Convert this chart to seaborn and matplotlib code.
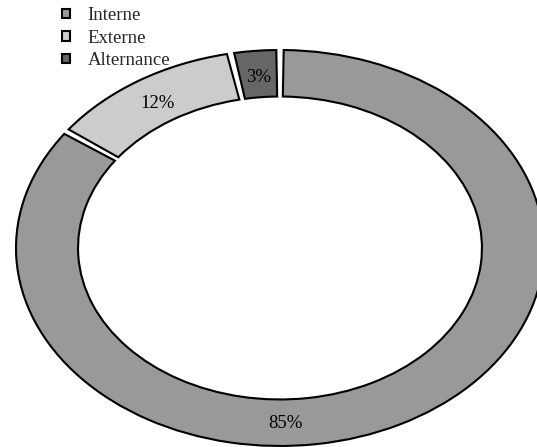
import matplotlib
matplotlib.use('Agg')
import matplotlib.pyplot as plt
import seaborn as sns
from matplotlib.patches import Patch

labels = ['Interne', 'Externe', 'Alternance']
values = [85, 12, 3]
colors = ['#999999', '#cccccc', '#666666']

sns.set_theme(style='white')
plt.rcParams['font.family'] = ['Liberation Serif', 'DejaVu Serif']

W, H = 537, 447
fig = plt.figure(figsize=(W / 100, H / 100), dpi=100)
# ellipse centre ~ (280, 248) px, radii ~ 264 x 198 px
ax = fig.add_axes([(280 - 264) / W, 1 - (248 + 198) / H, 528 / W, 396 / H])

wedges, texts, autotexts = ax.pie(
    values,
    colors=colors,
    startangle=90,
    counterclock=False,
    autopct='%.0f%%',
    pctdistance=0.865,
    wedgeprops=dict(width=0.235, edgecolor='black', linewidth=1.5),
    textprops=dict(fontsize=13.5, color='black'),
)
# small white gap between neighbouring slices
gap = 0.8
for w in wedges:
    t1, t2 = w.theta1, w.theta2
    w.set_theta1(t1 + gap)
    w.set_theta2(t2 - gap)

# the big slice's label sits at the bottom of the ring
autotexts[0].set_position((0.02, -0.885))
ax.set_aspect('auto')
ax.set_xlim(-1, 1)
ax.set_ylim(-1, 1)

handles = [Patch(facecolor=c, edgecolor='black', linewidth=1.5) for c in colors]
fig.legend(handles, labels, loc='upper left', bbox_to_anchor=(62 / W, 1 - 7 / H),
           frameon=False, fontsize=13.5, handlelength=0.4, handleheight=0.4,
           handletextpad=0.95, labelspacing=0.3, borderpad=0, borderaxespad=0)

fig.savefig('out.png', dpi=100)
